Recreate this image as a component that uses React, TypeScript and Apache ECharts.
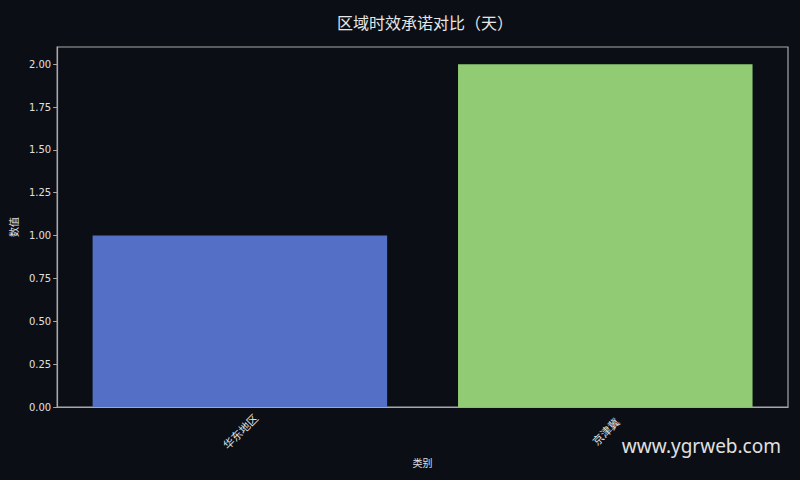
import { useEffect, useRef } from 'react';
import * as echarts from 'echarts';

const categories = ['华东地区', '京津冀'];
const values = [1.0, 2.0];
const barColors = ['#5470c6', '#91cc75'];
const yTicks = [0, 0.25, 0.5, 0.75, 1.0, 1.25, 1.5, 1.75, 2.0];

const FONT = '"Noto Sans CJK SC", "DejaVu Sans", sans-serif';

export default function App() {
  const chartRef = useRef<HTMLDivElement>(null);

  useEffect(() => {
    if (!chartRef.current) return;
    const chart = echarts.init(chartRef.current, undefined, { renderer: 'svg' });

    const option: echarts.EChartsOption = {
      animation: false,
      backgroundColor: '#0b0e14',
      title: {
        text: '区域时效承诺对比（天）',
        left: 332,
        top: 9,
        textStyle: { color: '#e6e6e6', fontSize: 16, fontWeight: 'normal', fontFamily: FONT },
      },
      grid: {
        left: 56,
        right: 12,
        top: 47,
        bottom: 73,
        show: true,
        borderColor: '#a8a8a8',
        borderWidth: 1.2,
        backgroundColor: 'transparent',
      },
      xAxis: {
        type: 'category',
        data: categories,
        name: '类别',
        nameLocation: 'middle',
        nameGap: 50,
        nameTextStyle: { color: '#e0e0e0', fontSize: 10, fontFamily: FONT },
        axisLine: { lineStyle: { color: '#a8a8a8', width: 1.2 } },
        axisTick: { alignWithLabel: true, length: 4, lineStyle: { color: '#a8a8a8' } },
        axisLabel: {
          rotate: 45,
          color: '#e0e0e0',
          fontSize: 11,
          fontFamily: FONT,
          align: 'center',
          verticalAlign: 'middle',
          margin: 24,
        },
      },
      yAxis: {
        type: 'value',
        min: 0,
        max: 2.1,
        interval: 0.25,
        name: '数值',
        nameLocation: 'middle',
        nameGap: 37,
        nameTextStyle: { color: '#e0e0e0', fontSize: 10, fontFamily: FONT },
        axisLine: { show: true, lineStyle: { color: '#a8a8a8', width: 1.2 } },
        axisTick: { show: true, length: 4, lineStyle: { color: '#a8a8a8' } },
        splitLine: { show: false },
        axisLabel: {
          color: '#e0e0e0',
          fontSize: 10,
          fontFamily: '"DejaVu Sans", sans-serif',
          margin: 6,
          showMaxLabel: false,
          formatter: (v: number) => (yTicks.includes(v) ? v.toFixed(2) : ''),
        },
      },
      series: [
        {
          type: 'bar',
          barWidth: '80.6%',
          data: values.map((v, i) => ({ value: v, itemStyle: { color: barColors[i] } })),
        },
      ],
      graphic: [
        {
          type: 'text',
          right: 19,
          top: 436,
          style: {
            text: 'www.ygrweb.com',
            fill: '#e0e0e0',
            font: '19px "Noto Sans", "Open Sans", sans-serif',
          },
        },
      ],
    };

    chart.setOption(option);
    return () => chart.dispose();
  }, []);

  return (
    <div
      ref={chartRef}
      style={{ width: 800, height: 480, position: 'absolute', left: 0, top: 0 }}
    />
  );
}
